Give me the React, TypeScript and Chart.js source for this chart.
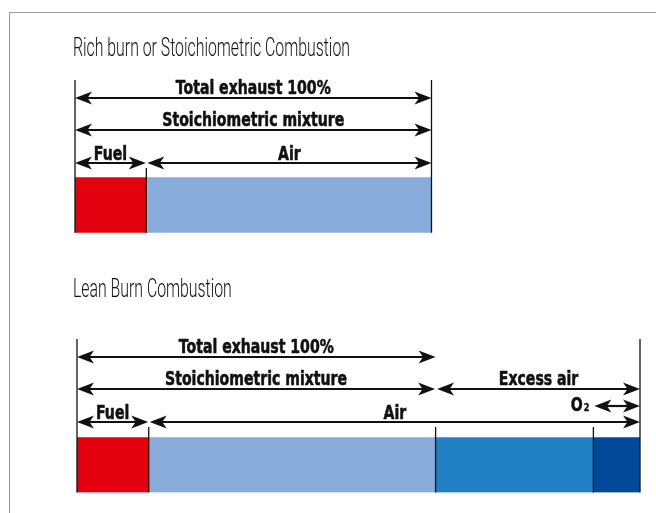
import React, { useEffect, useRef } from 'react';
import { Chart, registerables } from 'chart.js';

Chart.register(...registerables);

// ---------- data ----------
const richTitle = 'Rich burn or Stoichiometric Combustion';
const richSegments = ['Fuel', 'Air'];
const richValues = [20, 80];
const richColors = ['#E3000F', '#8AACDA'];

const leanTitle = 'Lean Burn Combustion';
const leanSegments = ['Fuel', 'Air', 'Excess air', 'O2'];
const leanValues = [20, 80, 44, 13];
const leanColors = ['#E3000F', '#8AACDA', '#2280C5', '#03499A'];

const totalLabel = 'Total exhaust 100%';
const stoichLabel = 'Stoichiometric mixture';
const fuelLabel = 'Fuel';
const airLabel = 'Air';
const excessLabel = 'Excess air';
const o2Label = 'O';
const o2Sub = '2';

// ---------- drawing helpers ----------
const BOLD = 'bold 19px "DejaVu Sans", "Liberation Sans", sans-serif';
const SUB = 'bold 11px "DejaVu Sans", "Liberation Sans", sans-serif';
const LIGHT = '300 25px Roboto, "Liberation Sans", sans-serif';

function head(ctx: CanvasRenderingContext2D, x: number, y: number, dir: number) {
  const L = 17, H = 6.5, N = 12.5;
  ctx.beginPath();
  ctx.moveTo(x, y);
  ctx.lineTo(x - dir * L, y - H);
  ctx.lineTo(x - dir * N, y);
  ctx.lineTo(x - dir * L, y + H);
  ctx.closePath();
  ctx.fill();
}

function arrow(ctx: CanvasRenderingContext2D, x1: number, x2: number, y: number) {
  ctx.beginPath();
  ctx.moveTo(x1 + 8, y);
  ctx.lineTo(x2 - 8, y);
  ctx.lineWidth = 2.2;
  ctx.stroke();
  head(ctx, x1, y, -1);
  head(ctx, x2, y, 1);
}

function text(ctx: CanvasRenderingContext2D, s: string, x: number, y: number, sx: number, align: CanvasTextAlign, heavy = 0) {
  ctx.save();
  ctx.translate(x, y);
  ctx.scale(sx, 1);
  ctx.textAlign = align;
  ctx.textBaseline = 'alphabetic';
  ctx.fillText(s, 0, 0);
  if (heavy > 0) {
    ctx.lineWidth = heavy;
    ctx.lineJoin = 'round';
    ctx.strokeText(s, 0, 0);
  }
  ctx.restore();
}

type Span = { label: string; from: number; to: number; y: number; base: number; gapL?: number; gapR?: number; o2?: boolean };
type DiagramCfg = { title: string; titleY: number; topY: number; divTop: number; dividers: number[]; spans: Span[] };

const diagramPlugin = {
  id: 'diagram',
  afterDatasetsDraw(chart: any) {
    const cfg: DiagramCfg = chart.options.plugins.diagram;
    if (!cfg) return;
    const ctx: CanvasRenderingContext2D = chart.ctx;
    const xs = chart.scales.x;
    const ca = chart.chartArea;
    const px = (v: number) => xs.getPixelForValue(v);
    ctx.save();
    ctx.fillStyle = '#111';
    ctx.strokeStyle = '#111';

    // title
    ctx.font = LIGHT;
    const tw = ctx.measureText(richTitle).width;
    const tsx = 277 / tw;
    text(ctx, cfg.title, 73, cfg.titleY, tsx, 'left');

    // vertical edge lines
    ctx.lineWidth = 1.3;
    const xl = px(xs.min), xr = px(xs.max);
    ctx.beginPath();
    ctx.moveTo(xl, cfg.topY); ctx.lineTo(xl, ca.bottom);
    ctx.moveTo(xr, cfg.topY); ctx.lineTo(xr, ca.bottom);
    cfg.dividers.forEach((d) => {
      ctx.moveTo(px(d), cfg.divTop); ctx.lineTo(px(d), ca.bottom);
    });
    ctx.stroke();

    // labels & arrows
    ctx.font = BOLD;
    const bw = ctx.measureText(totalLabel).width;
    const bsx = 155 / bw;
    cfg.spans.forEach((s) => {
      const a = px(s.from) + (s.gapL || 0);
      const b = px(s.to) - (s.gapR || 0);
      arrow(ctx, a, b, s.y);
      if (s.o2) {
        ctx.font = SUB;
        const w2 = ctx.measureText(o2Sub).width * bsx;
        const right = a - 5;
        text(ctx, o2Sub, right, s.base, bsx, 'right', 0.4);
        ctx.font = BOLD;
        text(ctx, s.label, right - w2 - 1, s.base, bsx, 'right', 0.6);
      } else {
        ctx.font = BOLD;
        text(ctx, s.label, (a + b) / 2, s.base, bsx, 'center', 0.6);
      }
    });
    ctx.restore();
  },
};

function sum(a: number[]) {
  return a.reduce((p, c) => p + c, 0);
}

function makeConfig(segments: string[], values: number[], colors: string[], padding: any, diagram: DiagramCfg): any {
  return {
    type: 'bar',
    data: {
      labels: [''],
      datasets: segments.map((s, i) => ({
        label: s,
        data: [values[i]],
        backgroundColor: colors[i],
        borderWidth: 0,
        barPercentage: 1,
        categoryPercentage: 1,
      })),
    },
    options: {
      indexAxis: 'y',
      responsive: false,
      animation: false,
      layout: { padding },
      scales: {
        x: { stacked: true, min: 0, max: sum(values), display: false },
        y: { stacked: true, display: false },
      },
      plugins: { legend: { display: false }, tooltip: { enabled: false }, title: { display: false }, diagram },
    },
    plugins: [diagramPlugin],
  };
}

export default function App() {
  const c1 = useRef<HTMLCanvasElement>(null);
  const c2 = useRef<HTMLCanvasElement>(null);

  useEffect(() => {
    const rFuel = richValues[0];
    const rTotal = sum(richValues);
    const richDiagram: DiagramCfg = {
      title: richTitle,
      titleY: 56,
      topY: 80,
      divTop: 168,
      dividers: [rFuel],
      spans: [
        { label: totalLabel, from: 0, to: rTotal, y: 98, base: 94 },
        { label: stoichLabel, from: 0, to: rTotal, y: 130, base: 126 },
        { label: fuelLabel, from: 0, to: rFuel, y: 163, base: 160, gapR: 0.5 },
        { label: airLabel, from: rFuel, to: rTotal, y: 163, base: 160, gapL: 1 },
      ],
    };

    const lFuel = leanValues[0];
    const lStoich = leanValues[0] + leanValues[1];
    const lO2Start = lStoich + leanValues[2];
    const lTotal = sum(leanValues);
    const leanDiagram: DiagramCfg = {
      title: leanTitle,
      titleY: 41,
      topY: 83,
      divTop: 171,
      dividers: [lFuel, lStoich, lO2Start],
      spans: [
        { label: totalLabel, from: 0, to: lStoich, y: 101, base: 97 },
        { label: stoichLabel, from: 0, to: lStoich, y: 133, base: 129, gapR: 0.5 },
        { label: excessLabel, from: lStoich, to: lTotal, y: 133, base: 129, gapL: 1.5 },
        { label: o2Label, from: lO2Start, to: lTotal, y: 150, base: 155, gapL: 1, o2: true },
        { label: fuelLabel, from: 0, to: lFuel, y: 166, base: 163, gapR: 0.5 },
        { label: airLabel, from: lFuel, to: lTotal, y: 166, base: 163, gapL: 1 },
      ],
    };

    const ch1 = new Chart(c1.current!, makeConfig(richSegments, richValues, richColors,
      { left: 75, right: 224.5, top: 177.3, bottom: 23.3 }, richDiagram));
    const ch2 = new Chart(c2.current!, makeConfig(leanSegments, leanValues, leanColors,
      { left: 77, right: 16, top: 181.2, bottom: 20.5 }, leanDiagram));
    return () => {
      ch1.destroy();
      ch2.destroy();
    };
  }, []);

  return (
    <div style={{ position: 'fixed', left: 0, top: 0, width: 656, height: 513, overflow: 'hidden', background: '#fff' }}>
      <div style={{ position: 'absolute', left: 9, top: 12, width: 700, height: 600, borderTop: '1px solid #999', borderLeft: '1px solid #999' }} />
      <canvas ref={c1} width={656} height={256} style={{ position: 'absolute', left: 0, top: 0, width: 656, height: 256 }} />
      <canvas ref={c2} width={656} height={257} style={{ position: 'absolute', left: 0, top: 256, width: 656, height: 257 }} />
    </div>
  );
}
